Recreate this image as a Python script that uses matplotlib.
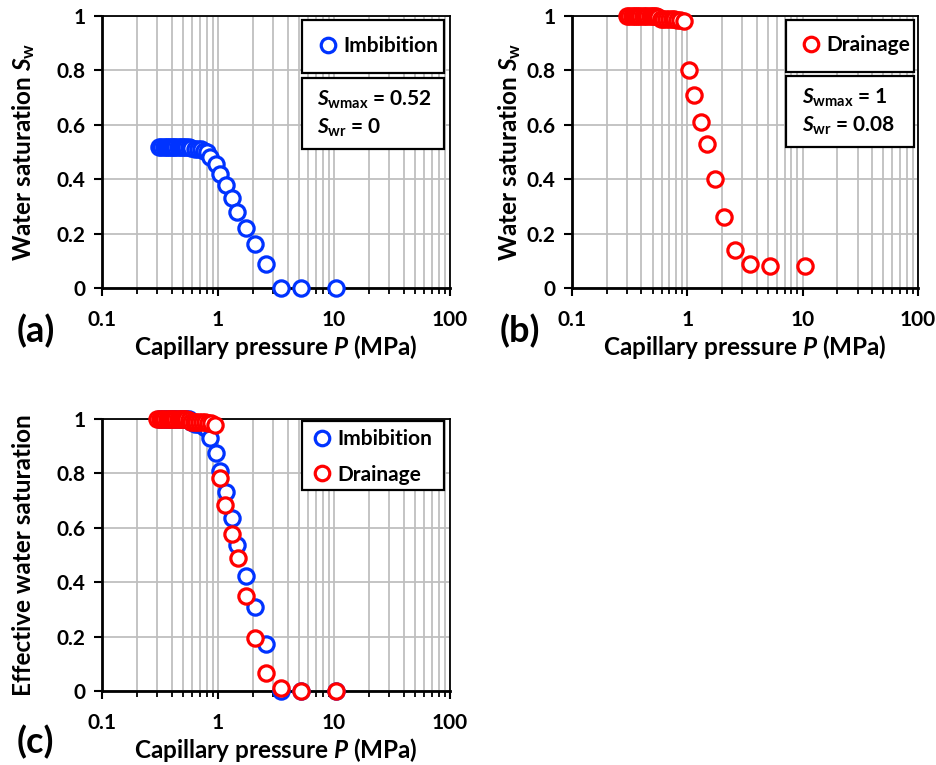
import numpy as np
import matplotlib
matplotlib.use("Agg")
import matplotlib.pyplot as plt
from matplotlib.patches import Rectangle
from matplotlib.ticker import LogLocator, FixedLocator, NullFormatter

# ---------------- data ----------------
P_imb = [0.31, 0.325, 0.34, 0.355, 0.37, 0.385, 0.40, 0.415, 0.43, 0.45, 0.47,
         0.49, 0.51, 0.535, 0.56, 0.59, 0.63, 0.67, 0.71, 0.75, 0.80, 0.85,
         0.96, 1.05, 1.17, 1.31, 1.47, 1.74, 2.08, 2.59, 3.5, 5.2, 10.4]
Sw_imb = [0.52, 0.52, 0.52, 0.52, 0.52, 0.52, 0.52, 0.52, 0.52, 0.52, 0.52,
          0.52, 0.52, 0.52, 0.52, 0.515, 0.51, 0.51, 0.51, 0.505, 0.50, 0.483,
          0.455, 0.42, 0.38, 0.33, 0.28, 0.22, 0.16, 0.09, 0.0, 0.0, 0.0]

P_dr = [0.30, 0.315, 0.33, 0.345, 0.36, 0.375, 0.39, 0.41, 0.43, 0.45, 0.47,
        0.49, 0.51, 0.535, 0.56, 0.59, 0.62, 0.65, 0.69, 0.73, 0.77, 0.82,
        0.87, 0.94, 1.035, 1.14, 1.31, 1.49, 1.74, 2.09, 2.61, 3.49, 5.21, 10.5]
Sw_dr = [1.0, 1.0, 1.0, 1.0, 1.0, 1.0, 1.0, 1.0, 1.0, 1.0, 1.0,
         1.0, 1.0, 1.0, 0.995, 0.99, 0.99, 0.99, 0.99, 0.99, 0.99, 0.985,
         0.985, 0.98, 0.80, 0.71, 0.61, 0.53, 0.40, 0.26, 0.14, 0.09, 0.08, 0.08]

Swmax_imb, Swr_imb = 0.52, 0.0
Swmax_dr, Swr_dr = 1.0, 0.08

x_ticks = [0.1, 1, 10, 100]
x_ticklabels = ["0.1", "1", "10", "100"]
y_ticks = [0, 0.2, 0.4, 0.6, 0.8, 1.0]
y_ticklabels = ["0", "0.2", "0.4", "0.6", "0.8", "1"]

Se_imb = [(s - Swr_imb) / (Swmax_imb - Swr_imb) for s in Sw_imb]
Se_dr = [(s - Swr_dr) / (Swmax_dr - Swr_dr) for s in Sw_dr]

# ---------------- style ----------------
FONT = "Lato"
plt.rcParams["font.family"] = [FONT, "DejaVu Sans"]
plt.rcParams["font.weight"] = "bold"
plt.rcParams["mathtext.fontset"] = "custom"
plt.rcParams["mathtext.rm"] = f"{FONT}:bold"
plt.rcParams["mathtext.it"] = f"{FONT}:bold:italic"
plt.rcParams["mathtext.bf"] = f"{FONT}:bold"

BLUE = "#0033FF"
RED = "#FF0000"

W, H = 936, 765
fig = plt.figure(figsize=(W / 100, H / 100), dpi=100)


def fx(px):
    return px / W


def fy(py):
    return 1 - py / H


def ax_rect(l, t, r, b):
    return [l / W, 1 - b / H, (r - l) / W, (b - t) / H]


def style_axes(ax, ylabel, ylabel_x_px, box):
    l, t, r, b = box
    ax.set_xscale("log")
    ax.set_xlim(0.1, 100)
    ax.set_ylim(0, 1)
    ax.xaxis.set_major_locator(FixedLocator(x_ticks))
    ax.set_xticklabels(x_ticklabels)
    ax.xaxis.set_minor_locator(LogLocator(base=10, subs=np.arange(2, 10), numticks=20))
    ax.xaxis.set_minor_formatter(NullFormatter())
    ax.set_yticks(y_ticks)
    ax.set_yticklabels(y_ticklabels)
    ax.grid(True, which="major", axis="both", color="#BFBFBF", lw=1.3)
    ax.grid(True, which="minor", axis="x", color="#BFBFBF", lw=1.3)
    ax.set_axisbelow(True)
    for s in ax.spines.values():
        s.set_color("black")
        s.set_linewidth(1.3)
    ax.spines["bottom"].set_linewidth(2.0)
    ax.spines["left"].set_linewidth(2.0)
    ax.tick_params(axis="x", which="major", direction="out", length=6, width=1.5,
                   labelsize=15, pad=10)
    ax.tick_params(axis="x", which="minor", direction="out", length=4, width=1.3)
    ax.tick_params(axis="y", which="major", direction="out", length=6, width=1.5,
                   labelsize=15, pad=6)
    for lab in ax.get_xticklabels() + ax.get_yticklabels():
        lab.set_fontweight("bold")
    ax.set_xlabel(r"Capillary pressure $P$ (MPa)", fontsize=17.5, fontweight="bold")
    ax.set_ylabel(ylabel, fontsize=17.5, fontweight="bold")
    ax.xaxis.set_label_coords(0.5, (b - 347) / (b - t), transform=ax.transAxes)
    ax.yaxis.set_label_coords((ylabel_x_px - l) / (r - l), 0.5, transform=ax.transAxes)
    ax.xaxis.label.set_va("center")
    ax.yaxis.label.set_va("center")


def add_box(ax, l, t, r, b):
    rect = Rectangle((fx(l), fy(b)), fx(r) - fx(l), fy(t) - fy(b),
                     transform=fig.transFigure, fc="white", ec="black", lw=1.6,
                     zorder=8, clip_on=False)
    ax.add_artist(rect)


def add_legend(ax, anchor_px):
    lg = ax.legend(loc="upper left", bbox_to_anchor=(fx(anchor_px[0]), fy(anchor_px[1])),
                   bbox_transform=fig.transFigure, frameon=False,
                   fontsize=15, handletextpad=0.05, borderpad=0, handlelength=1.35,
                   labelspacing=0.75, borderaxespad=0, markerscale=0.95)
    lg.set_zorder(10)
    return lg


mk = dict(marker="o", ms=11, mfc="white", mew=2.3, ls="none", clip_on=False)

# (a)
boxA = (102, 16, 450, 288)
axa = fig.add_axes(ax_rect(*boxA))
style_axes(axa, r"Water saturation $S_\mathrm{w}$", 24, boxA)
axa.plot(P_imb, Sw_imb, mec=BLUE, label="Imbibition", zorder=3, **mk)
add_box(axa, 302, 20, 444, 73)
add_legend(axa, (314, 36))
add_box(axa, 302, 78, 444, 149)
axa.text(fx(317), fy(114), r"$S_\mathrm{wmax}$ = 0.52" + "\n" + r"$S_\mathrm{wr}$ = 0",
         transform=fig.transFigure, ha="left", va="center", fontsize=15,
         fontweight="bold", linespacing=1.3, zorder=10)
fig.text(fx(17), fy(331), "(a)", fontsize=26, fontweight="bold", va="center")

# (b)
boxB = (572, 16, 918, 288)
axb = fig.add_axes(ax_rect(*boxB))
style_axes(axb, r"Water saturation $S_\mathrm{w}$", 510, boxB)
axb.plot(P_dr, Sw_dr, mec=RED, label="Drainage", zorder=3, **mk)
add_box(axb, 786, 20, 914, 72)
add_legend(axb, (797, 35))
add_box(axb, 786, 76, 914, 147)
axb.text(fx(802), fy(112), r"$S_\mathrm{wmax}$ = 1" + "\n" + r"$S_\mathrm{wr}$ = 0.08",
         transform=fig.transFigure, ha="left", va="center", fontsize=15,
         fontweight="bold", linespacing=1.3, zorder=10)
fig.text(fx(500), fy(331), "(b)", fontsize=26, fontweight="bold", va="center")

# (c)
boxC = (102, 419, 450, 691)
axc = fig.add_axes(ax_rect(*boxC))
style_axes(axc, "Effective water saturation", 24, boxC)
axc.xaxis.set_label_coords(0.5, (691 - 750) / 272, transform=axc.transAxes)
axc.plot(P_imb, Se_imb, mec=BLUE, label="Imbibition", zorder=3, **mk)
axc.plot(P_dr, Se_dr, mec=RED, label="Drainage", zorder=4, **mk)
add_box(axc, 302, 421, 444, 490)
add_legend(axc, (308, 429))
fig.text(fx(17), fy(742), "(c)", fontsize=26, fontweight="bold", va="center")

fig.savefig("out.png", dpi=100)
